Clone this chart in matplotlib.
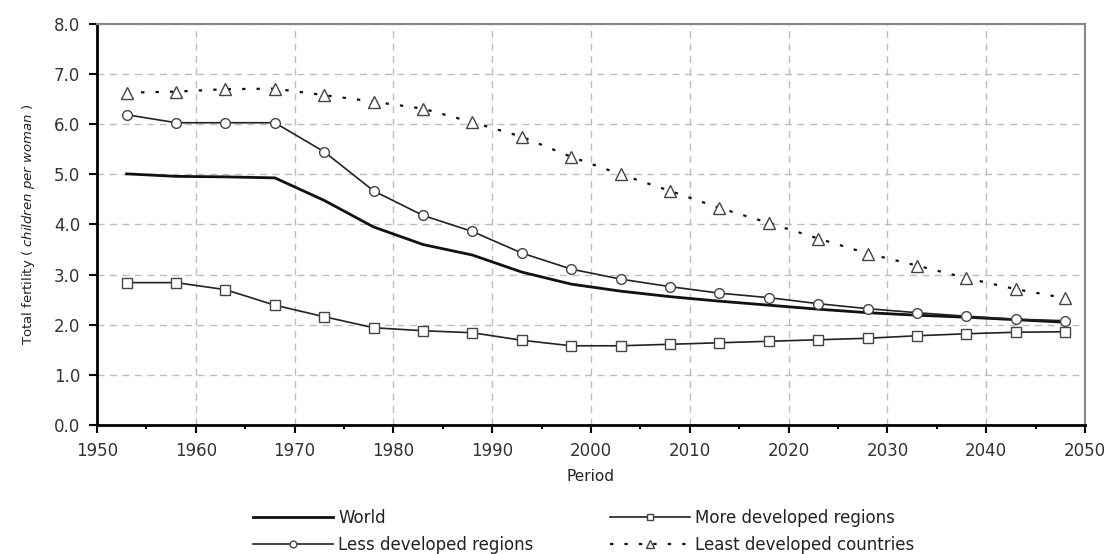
import matplotlib
matplotlib.use("Agg")
import matplotlib.pyplot as plt
from matplotlib.ticker import MultipleLocator

plt.rcParams["font.family"] = ["DejaVu Sans"]

years = [1953, 1958, 1963, 1968, 1973, 1978, 1983, 1988, 1993, 1998,
         2003, 2008, 2013, 2018, 2023, 2028, 2033, 2038, 2043, 2048]
world = [5.01, 4.96, 4.95, 4.93, 4.48, 3.95, 3.60, 3.39, 3.05, 2.81,
         2.67, 2.56, 2.47, 2.39, 2.31, 2.24, 2.19, 2.15, 2.10, 2.05]
more_dev = [2.84, 2.84, 2.70, 2.39, 2.16, 1.94, 1.88, 1.84, 1.69, 1.58,
            1.58, 1.61, 1.64, 1.67, 1.70, 1.73, 1.78, 1.82, 1.85, 1.86]
less_dev = [6.19, 6.03, 6.03, 6.03, 5.45, 4.67, 4.18, 3.86, 3.43, 3.11,
            2.91, 2.76, 2.63, 2.54, 2.42, 2.32, 2.24, 2.17, 2.11, 2.08]
least_dev = [6.63, 6.65, 6.70, 6.71, 6.58, 6.45, 6.31, 6.04, 5.75, 5.35,
             5.00, 4.67, 4.33, 4.03, 3.72, 3.42, 3.18, 2.93, 2.71, 2.53]

fig = plt.figure(figsize=(11.11, 5.54), dpi=100)
ax = fig.add_axes([0.0873, 0.2329, 0.8893, 0.7238])

h_world, = ax.plot(years, world, color="#111111", lw=2.0, label="World", zorder=3)
h_more, = ax.plot(years, more_dev, color="#222222", lw=1.2, marker="s", ms=7,
                  mfc="white", mec="#444444", mew=1.0, label="More developed regions", zorder=3)
h_less, = ax.plot(years, less_dev, color="#222222", lw=1.2, marker="o", ms=7,
                  mfc="white", mec="#444444", mew=1.0, label="Less developed regions", zorder=3)
h_least, = ax.plot(years, least_dev, color="#111111", lw=1.6, ls=(0, (1.5, 5)), marker="^", ms=8,
                   mfc="white", mec="#444444", mew=1.0, label="Least developed countries", zorder=3)

ax.set_xlim(1950, 2050)
ax.set_ylim(0, 8)
ax.xaxis.set_major_locator(MultipleLocator(10))
ax.xaxis.set_minor_locator(MultipleLocator(5))
ax.yaxis.set_major_locator(MultipleLocator(1))
ax.yaxis.set_major_formatter(plt.FormatStrFormatter("%.1f"))

ax.grid(True, which="major", color="#bdbdbd", ls=(0, (5, 4)), lw=1.0, zorder=0)
ax.set_axisbelow(True)

for side in ("left", "bottom"):
    ax.spines[side].set_color("black")
    ax.spines[side].set_linewidth(2.0)
for side in ("top", "right"):
    ax.spines[side].set_color("#888888")
    ax.spines[side].set_linewidth(1.5)

ax.tick_params(axis="both", which="major", direction="out", length=6, width=1.5,
               color="black", labelsize=12, labelcolor="#333333")
ax.tick_params(axis="x", which="minor", direction="out", length=3, width=1.5, color="black")
ax.tick_params(axis="y", pad=6)
ax.tick_params(axis="x", pad=6)

ax.set_xlabel("Period", fontsize=11, color="#222222", labelpad=7)
ax.set_ylabel(r"Total fertility ( $\mathit{children\ per\ woman}$ )",
              fontsize=9.5, color="#222222", labelpad=12)

# matplotlib fills legend columns first, so order gives rows World/More, Less/Least
fig.legend(handles=[h_world, h_less, h_more, h_least],
           loc="upper left", bbox_to_anchor=(0.2205, 0.096), ncol=2, frameon=False,
           fontsize=12, borderpad=0, handlelength=4.8, handletextpad=0.3,
           columnspacing=4.6, labelspacing=0.55, markerscale=0.7,
           labelcolor="#222222")

fig.savefig("out.png", dpi=100)
